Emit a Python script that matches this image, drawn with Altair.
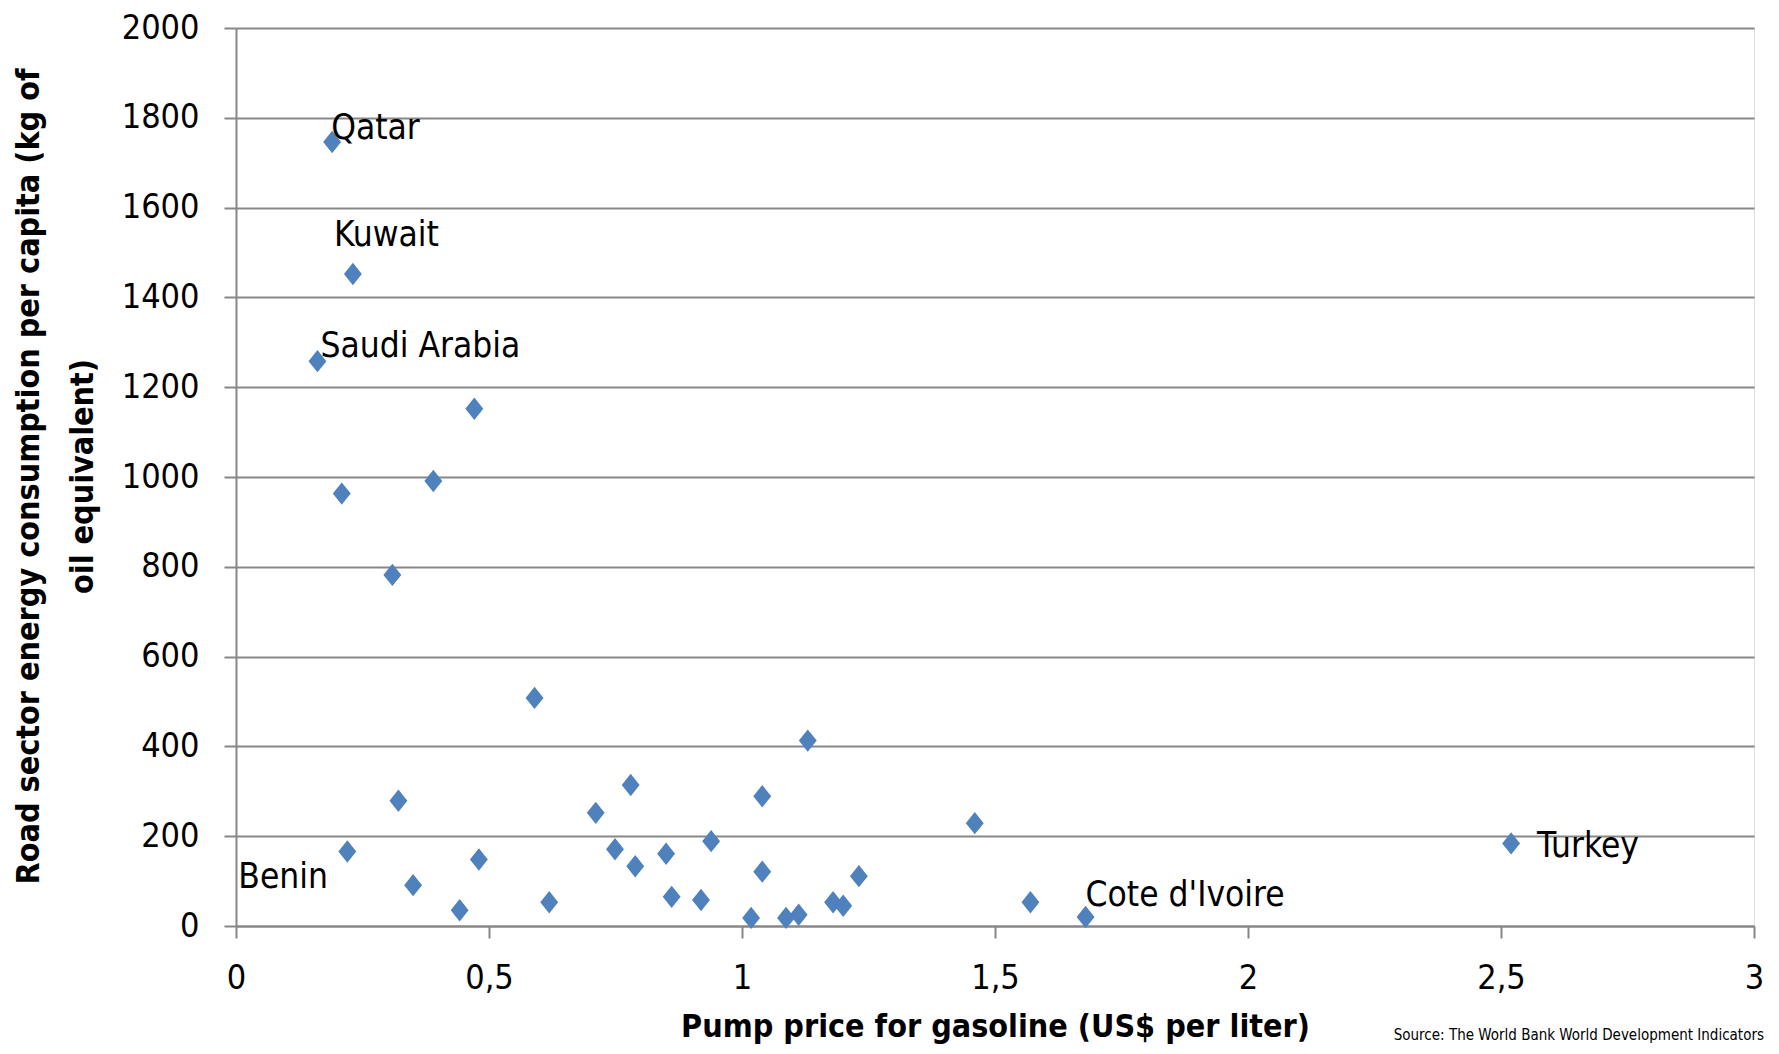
import altair as alt
import pandas as pd

# Data
price = [0.19, 0.231, 0.161, 0.471, 0.209, 0.39, 0.309, 0.59, 1.13, 0.78,
         0.321, 1.04, 0.711, 1.46, 0.22, 2.52, 0.939, 0.749, 0.85, 0.48,
         0.789, 1.04, 1.231, 0.35, 0.861, 0.919, 0.619, 1.18, 1.2, 1.57,
         0.442, 1.018, 1.087, 1.112, 1.679]
consumption = [1746, 1452, 1258, 1152, 963, 991, 782, 508, 413, 314,
               279, 289, 252, 229, 166, 184, 189, 171, 161, 148,
               133, 121, 111, 91, 65, 58, 53, 53, 45, 53,
               35, 18, 18, 25, 20]

label_country = ["Qatar", "Kuwait", "Saudi Arabia", "Benin", "Cote d'Ivoire", "Turkey"]
label_price = [0.19, 0.231, 0.161, 0.22, 1.679, 2.52]
label_cons = [1746, 1452, 1258, 166, 20, 184]
# pixel offsets of each label from its point (style)
label_dx = [-1, -19, 3, -109, 0, 26]
label_dy = [-14, -39, -15, 26, -22, 3]

x_ticks = [0, 0.5, 1, 1.5, 2, 2.5, 3]
y_ticks = [0, 200, 400, 600, 800, 1000, 1200, 1400, 1600, 1800, 2000]

x_title = "Pump price for gasoline (US$ per liter)"
y_title = ["Road sector energy consumption per capita (kg of", "oil equivalent)"]
source_text = "Source: The World Bank World Development Indicators"

FONT = "DejaVu Sans Condensed, sans-serif"
BLUE = "#4F81BD"
GRID = "#878787"

points = pd.DataFrame({"price": price, "consumption": consumption})
labels = pd.DataFrame({"country": label_country, "price": label_price,
                       "consumption": label_cons})

x_scale = alt.Scale(domain=[0, 3], nice=False, zero=True)
y_scale = alt.Scale(domain=[0, 2000], nice=False)

x_axis = alt.Axis(
    values=x_ticks, grid=False, title=x_title, labelFlush=False,
    labelExpr="replace(toString(datum.value), '.', ',')",
    labelFont=FONT, labelFontSize=34, labelColor="black", labelPadding=23,
    tickSize=12, tickColor=GRID, tickWidth=2,
    domainColor=GRID, domainWidth=2,
    titleFont=FONT, titleFontSize=32, titleFontWeight="bold", titleColor="black",
    titleBaseline="alphabetic", titleY=110, titleX=759,
)
y_axis = alt.Axis(
    values=y_ticks, grid=True, gridColor=GRID, gridWidth=2, title=y_title,
    format="d", labelFlush=False,
    labelFont=FONT, labelFontSize=34, labelColor="black", labelPadding=25,
    tickSize=12, tickColor=GRID, tickWidth=2,
    domainColor=GRID, domainWidth=2,
    titleFont=FONT, titleFontSize=32, titleFontWeight="bold", titleColor="black",
    titleAngle=-90, titleAlign="center", titleBaseline="middle",
    titleX=-208, titleY=448, titleLineHeight=54,
)

diamond = "M-0.8,0L0,-1L0.8,0L0,1Z"

base = alt.Chart(points).mark_point(
    shape=diamond, filled=True, color=BLUE, opacity=1, size=500, strokeWidth=0
).encode(
    x=alt.X("price:Q", scale=x_scale, axis=x_axis),
    y=alt.Y("consumption:Q", scale=y_scale, axis=y_axis),
)

layers = [base]
for i, name in enumerate(label_country):
    layers.append(
        alt.Chart(labels).transform_filter(alt.datum.country == name).mark_text(
            align="left", baseline="middle", font=FONT, fontSize=35,
            color="black", dx=label_dx[i], dy=label_dy[i]
        ).encode(
            x=alt.X("price:Q", scale=x_scale),
            y=alt.Y("consumption:Q", scale=y_scale),
            text="country:N",
        )
    )

source = alt.Chart(pd.DataFrame({"t": [source_text]})).mark_text(
    align="right", baseline="middle", font=FONT, fontSize=15, color="black"
).encode(x=alt.value(1528), y=alt.value(1007), text="t:N")
layers.append(source)

chart = alt.layer(*layers).properties(
    width=1518, height=898,
    autosize=alt.AutoSizeParams(type="none"),
    padding={"left": 228, "top": 20, "right": 17, "bottom": 120},
).configure_view(stroke=None).configure(background="white")

chart.save("out.html", embed_options={"renderer": "svg", "actions": False})
